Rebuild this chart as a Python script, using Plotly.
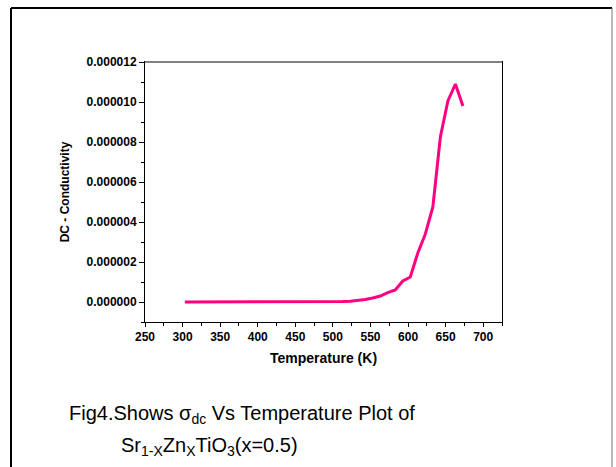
import plotly.graph_objects as go

temperature = [303, 313, 323, 333, 343, 353, 363, 373, 383, 393, 403, 413, 423, 433,
               443, 453, 463, 473, 483, 493, 503, 513, 523, 533, 543, 553, 563, 573,
               583, 593, 603, 613, 623, 633, 643, 653, 663, 673]
conductivity_e6 = [0.0, 0.0, 0.0, 0.0, 0.0, 0.0, 0.0, 0.0, 0.0, 0.0, 0.0, 0.0, 0.0, 0.0,
                   0.0, 0.0, 0.0, 0.0, 0.0, 0.01, 0.02, 0.03, 0.04, 0.08, 0.13, 0.2, 0.3, 0.47,
                   0.6, 1.05, 1.25, 2.45, 3.4, 4.75, 8.25, 10.05, 10.9, 9.8]
conductivity = [v * 1e-6 for v in conductivity_e6]

W, H = 616, 467
L, R, T, B = 145, 114, 62, 145
pw, ph = W - L - R, H - T - B

def px(x):
    return (x - L) / pw

def py(y):
    return (H - B - y) / ph

fig = go.Figure()
fig.add_trace(go.Scatter(x=temperature, y=conductivity, mode="lines",
                         line=dict(color="#FF0080", width=3), showlegend=False))

tickfont = dict(family="Liberation Sans, Arial", size=12, color="black", weight="bold")
fig.update_xaxes(range=[250, 725], dtick=50, tick0=250, ticks="outside", ticklen=4,
                 tickwidth=1, tickcolor="black", showline=True, linecolor="black", linewidth=1,
                 mirror=True, showgrid=False, zeroline=False, tickfont=tickfont,
                 minor=dict(dtick=25, ticks="outside", ticklen=3, tickcolor="black"),
                 title=dict(text="Temperature (K)", standoff=9,
                            font=dict(family="Liberation Sans, Arial", size=14, color="black", weight="bold")))
fig.update_yaxes(range=[-1e-6, 12e-6], dtick=2e-6, tick0=0, tickformat=".6f", ticks="outside",
                 ticklen=5, tickwidth=1, tickcolor="black", showline=True, linecolor="black",
                 linewidth=1, mirror=True, showgrid=False, zeroline=False, tickfont=tickfont,
                 minor=dict(dtick=1e-6, ticks="outside", ticklen=3, tickcolor="black"),
                 title=dict(text="DC - Conductivity", standoff=14,
                            font=dict(family="Liberation Sans, Arial", size=12, color="black", weight="bold")))

shapes = [
    dict(type="line", xref="paper", yref="paper", x0=0, x1=1, y0=1, y1=1,
         line=dict(color="#808080", width=2)),
    dict(type="line", xref="paper", yref="paper", x0=px(11), x1=px(11), y0=py(8), y1=py(480),
         line=dict(color="black", width=2)),
    dict(type="line", xref="paper", yref="paper", x0=px(11), x1=px(612), y0=py(8), y1=py(8),
         line=dict(color="black", width=2)),
    dict(type="line", xref="paper", yref="paper", x0=px(612), x1=px(612), y0=py(8), y1=py(480),
         line=dict(color="#777777", width=1)),
]

capfont = dict(family="Liberation Sans, Arial", size=20, color="black")
annotations = [
    dict(text="Fig4.Shows σ<sub>dc</sub> Vs Temperature Plot of", xref="paper", yref="paper",
         x=px(67), y=py(414), xanchor="left", yanchor="middle", showarrow=False, font=capfont),
    dict(text="Sr<sub>1-X</sub>Zn<sub>X</sub>TiO<sub>3</sub>(x=0.5)", xref="paper", yref="paper",
         x=px(119), y=py(446), xanchor="left", yanchor="middle", showarrow=False, font=capfont),
]

fig.update_layout(width=W, height=H, margin=dict(l=L, r=R, t=T, b=B, autoexpand=False),
                  plot_bgcolor="white", paper_bgcolor="white",
                  shapes=shapes, annotations=annotations)

fig.write_html("out.html")
